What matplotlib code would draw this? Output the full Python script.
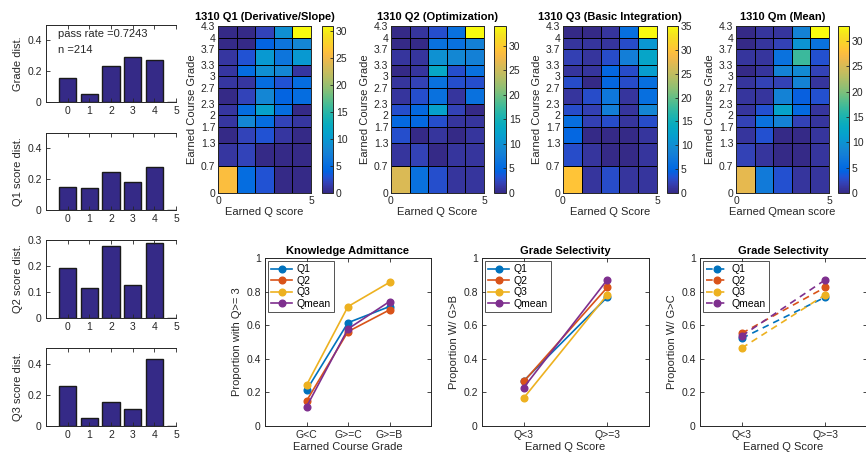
import numpy as np
import matplotlib
matplotlib.use('Agg')
import matplotlib.pyplot as plt
from matplotlib.colors import LinearSegmentedColormap

plt.rcParams['font.family'] = ['Liberation Sans', 'DejaVu Sans']

# ---------------- data ----------------
score_bins = [0, 1, 2, 3, 4, 5]
grade_dist = [0.154, 0.054, 0.231, 0.290, 0.272, 0.0]
q1_dist = [0.150, 0.146, 0.248, 0.180, 0.280, 0.0]
q2_dist = [0.192, 0.117, 0.277, 0.127, 0.290, 0.0]
q3_dist = [0.254, 0.052, 0.153, 0.110, 0.430, 0.0]
pass_rate = 0.7243
n_students = 214

grade_edges = [0, 0.7, 1.3, 1.7, 2, 2.3, 2.7, 3, 3.3, 3.7, 4, 4.3]
grade_ticklabels = ['0', '0.7', '1.3', '1.7', '2', '2.3', '2.7', '3', '3.3', '3.7', '4', '4.3']
q_edges = [0, 1, 2, 3, 4, 5]

# counts, rows listed from top grade (4-4.3) down to bottom (0-0.7)
q1_counts = [
    [0, 0, 2, 9, 31],
    [0, 0, 4, 6, 8],
    [1, 3, 10, 6, 10],
    [1, 5, 9, 8, 1],
    [1, 1, 5, 3, 5],
    [0, 2, 8, 4, 5],
    [1, 5, 11, 5, 0],
    [1, 8, 5, 2, 1],
    [0, 2, 3, 1, 0],
    [1, 2, 0, 0, 0],
    [26, 5, 3, 0, 0],
]
q2_counts = [
    [0, 1, 3, 6, 34],
    [0, 0, 6, 6, 8],
    [1, 1, 10, 9, 8],
    [0, 1, 13, 3, 6],
    [1, 2, 6, 3, 3],
    [1, 3, 6, 1, 6],
    [3, 5, 12, 2, 0],
    [5, 5, 3, 1, 1],
    [3, 0, 1, 0, 1],
    [1, 2, 0, 1, 1],
    [26, 6, 3, 1, 1],
]
q3_counts = [
    [0, 0, 1, 6, 35],
    [1, 1, 1, 3, 11],
    [2, 1, 3, 8, 13],
    [1, 1, 5, 3, 12],
    [3, 0, 5, 3, 6],
    [1, 3, 7, 1, 6],
    [3, 2, 8, 1, 9],
    [6, 2, 3, 1, 3],
    [5, 0, 0, 0, 1],
    [3, 1, 0, 0, 1],
    [30, 1, 3, 1, 1],
]
qm_counts = [
    [0, 1, 1, 8, 33],
    [0, 1, 2, 10, 6],
    [1, 1, 6, 17, 3],
    [0, 1, 8, 9, 2],
    [1, 2, 2, 8, 1],
    [1, 1, 8, 4, 3],
    [1, 3, 12, 5, 1],
    [2, 6, 8, 2, 1],
    [1, 3, 0, 0, 1],
    [2, 1, 0, 0, 1],
    [26, 7, 3, 1, 1],
]

ka_groups = ['G<C', 'G>=C', 'G>=B']
ka_q1 = [0.213, 0.615, 0.711]
ka_q2 = [0.149, 0.562, 0.691]
ka_q3 = [0.243, 0.711, 0.855]
ka_qm = [0.114, 0.578, 0.741]

sel_groups = ['Q<3', 'Q>=3']
gb_q1 = [0.269, 0.767]
gb_q2 = [0.265, 0.825]
gb_q3 = [0.167, 0.781]
gb_qm = [0.229, 0.870]
gc_q1 = [0.522, 0.767]
gc_q2 = [0.552, 0.825]
gc_q3 = [0.464, 0.781]
gc_qm = [0.536, 0.870]

series_names = ['Q1', 'Q2', 'Q3', 'Qmean']

# ---------------- styling ----------------
PARULA = [
    (0.2081, 0.1663, 0.5292), (0.2123, 0.2138, 0.6270), (0.1959, 0.2645, 0.7279),
    (0.1253, 0.3242, 0.8303), (0.0117, 0.3875, 0.8820), (0.0165, 0.4266, 0.8786),
    (0.0498, 0.4586, 0.8641), (0.0723, 0.4887, 0.8467), (0.0793, 0.5200, 0.8312),
    (0.0641, 0.5570, 0.8240), (0.0343, 0.5966, 0.8199), (0.0239, 0.6287, 0.8038),
    (0.0228, 0.6535, 0.7768), (0.0384, 0.6743, 0.7436), (0.0843, 0.6928, 0.7062),
    (0.1453, 0.7098, 0.6646), (0.2178, 0.7250, 0.6193), (0.3022, 0.7376, 0.5712),
    (0.3953, 0.7459, 0.5244), (0.4871, 0.7491, 0.4840), (0.5709, 0.7485, 0.4494),
    (0.6473, 0.7456, 0.4188), (0.7184, 0.7411, 0.3905), (0.7858, 0.7356, 0.3633),
    (0.8507, 0.7299, 0.3360), (0.9139, 0.7258, 0.3063), (0.9739, 0.7314, 0.2666),
    (0.9990, 0.7653, 0.2164), (0.9880, 0.8066, 0.1794), (0.9697, 0.8481, 0.1475),
    (0.9589, 0.8949, 0.1132), (0.9661, 0.9514, 0.0755), (0.9763, 0.9831, 0.0538)]
pos = [i / 63 for i in range(0, 63, 2)] + [1.0]
parula = LinearSegmentedColormap.from_list('parula', list(zip(pos, PARULA)), N=256)

LINE_COLORS = [(0, 0.447, 0.741), (0.85, 0.325, 0.098), (0.929, 0.694, 0.125), (0.494, 0.184, 0.556)]
BAR_COLOR = (0.2081, 0.1663, 0.5292)
AXC = (0.15, 0.15, 0.15)
TS = 7.5
LS = 8

W, H = 866, 466
fig = plt.figure(figsize=(W / 100, H / 100), dpi=100)


def add_ax(l, t, r, b):
    return fig.add_axes([l / W, 1 - b / H, (r - l) / W, (b - t) / H])


def style(ax):
    for s in ax.spines.values():
        s.set_color(AXC)
        s.set_linewidth(0.7)
    ax.tick_params(direction='in', length=3, width=0.6, colors=AXC, labelsize=TS,
                   top=True, right=True, pad=3)


# ---------------- bar charts ----------------
bar_specs = [
    (grade_dist, 'Grade dist.', 25, 102, 0.5, [0, 0.2, 0.4]),
    (q1_dist, 'Q1 score dist.', 133, 210, 0.5, [0, 0.2, 0.4]),
    (q2_dist, 'Q2 score dist.', 240, 318, 0.3, [0, 0.1, 0.2, 0.3]),
    (q3_dist, 'Q3 score dist.', 348, 426, 0.5, [0, 0.2, 0.4]),
]
for i, (vals, lab, t, b, ymax, yt) in enumerate(bar_specs):
    ax = add_ax(46, t, 176, b)
    ax.bar(score_bins, vals, width=0.8, color=BAR_COLOR, edgecolor=(0.1, 0.1, 0.1), linewidth=1.0)
    ax.set_xlim(-1, 5)
    ax.set_ylim(0, ymax)
    ax.set_xticks(score_bins)
    ax.set_yticks(yt)
    ax.set_yticklabels([f'{v:g}' for v in yt])
    ax.set_ylabel(lab, fontsize=LS, color=AXC, labelpad=3)
    style(ax)
    ax.spines['right'].set_visible(False)
    ax.tick_params(right=False)
    if i == 0:
        ax.text(0.09, 0.88, f'pass rate ={pass_rate}', transform=ax.transAxes, fontsize=LS,
                color=AXC, va='center')
        ax.text(0.09, 0.67, f'n ={n_students}', transform=ax.transAxes, fontsize=LS,
                color=AXC, va='center')

# ---------------- heatmaps ----------------
hm_specs = [
    (q1_counts, '1310 Q1 (Derivative/Slope)', 'Earned Q score', 218, 311, 322, 333),
    (q2_counts, '1310 Q2 (Optimization)', 'Earned Q Score', 391, 484, 494, 506),
    (q3_counts, '1310 Q3 (Basic Integration)', 'Earned Q Score', 563, 657, 667, 678),
    (qm_counts, '1310 Qm (Mean)', 'Earned Qmean score', 736, 829, 838, 849),
]
for counts, title, xlab, l, r, cl, cr in hm_specs:
    ax = add_ax(l, 26, r, 193)
    Z = np.flipud(np.array(counts, dtype=float))
    vmax = Z.max()
    mesh = ax.pcolormesh(q_edges, grade_edges, Z, cmap=parula, vmin=0, vmax=vmax,
                         edgecolors='k', linewidth=0.7)
    ax.set_xlim(0, 5)
    ax.set_ylim(0, 4.3)
    ax.set_xticks([0, 5])
    ax.set_yticks(grade_edges)
    ax.set_yticklabels(grade_ticklabels)
    style(ax)
    ax.tick_params(length=0, pad=2)
    ax.set_title(title, fontsize=TS + 0.5, fontweight='bold', color='k', pad=4)
    ax.set_ylabel('Earned Course Grade', fontsize=LS, color=AXC, labelpad=3)
    ax.set_xlabel(xlab, fontsize=LS, color=AXC, labelpad=1)
    cax = add_ax(cl, 26, cr, 193)
    cb = fig.colorbar(mesh, cax=cax)
    ticks = list(range(0, int(vmax) + 1, 5))
    cb.set_ticks(ticks)
    cb.outline.set_edgecolor(AXC)
    cb.outline.set_linewidth(0.7)
    cax.tick_params(direction='in', length=2.5, width=0.6, colors=AXC, labelsize=TS, pad=2)

# ---------------- line charts ----------------
def line_panel(ax, xs, ys_list, labels, title, ylab, xlab, ls='-'):
    for ys, c, name in zip(ys_list, LINE_COLORS, series_names):
        ax.plot(xs, ys, ls, color=c, lw=1.2, marker='o', markersize=4.8, label=name,
                dashes=(4, 3) if ls == '--' else (None, None))
    ax.set_ylim(0, 1)
    ax.set_yticks([0, 0.2, 0.4, 0.6, 0.8, 1])
    ax.set_yticklabels(['0', '0.2', '0.4', '0.6', '0.8', '1'])
    ax.set_xticks(xs)
    ax.set_xticklabels(labels)
    style(ax)
    ax.set_title(title, fontsize=TS + 0.5, fontweight='bold', color='k', pad=3)
    ax.set_ylabel(ylab, fontsize=LS, color=AXC, labelpad=3)
    ax.set_xlabel(xlab, fontsize=LS, color=AXC, labelpad=1)
    leg = ax.legend(loc='upper left', fontsize=TS, frameon=True, fancybox=False,
                    handlelength=2.0, handletextpad=0.4, borderpad=0.3, labelspacing=0.15,
                    borderaxespad=0.3)
    leg.get_frame().set_edgecolor(AXC)
    leg.get_frame().set_linewidth(0.7)


ax = add_ax(265, 258, 431, 426)
line_panel(ax, [1, 2, 3], [ka_q1, ka_q2, ka_q3, ka_qm], ka_groups, 'Knowledge Admittance',
           'Proportion with Q>= 3', 'Earned Course Grade')
ax.set_xlim(0, 4)

ax = add_ax(482, 258, 649, 426)
line_panel(ax, [1, 2], [gb_q1, gb_q2, gb_q3, gb_qm], sel_groups, 'Grade Selectivity',
           'Proportion W/ G>B', 'Earned Q Score')
ax.set_xlim(0.5, 2.5)

ax = add_ax(700, 258, 867, 426)
line_panel(ax, [1, 2], [gc_q1, gc_q2, gc_q3, gc_qm], sel_groups, 'Grade Selectivity',
           'Proportion W/ G>C', 'Earned Q Score', ls='--')
ax.set_xlim(0.5, 2.5)

fig.savefig('out.png', dpi=100)
